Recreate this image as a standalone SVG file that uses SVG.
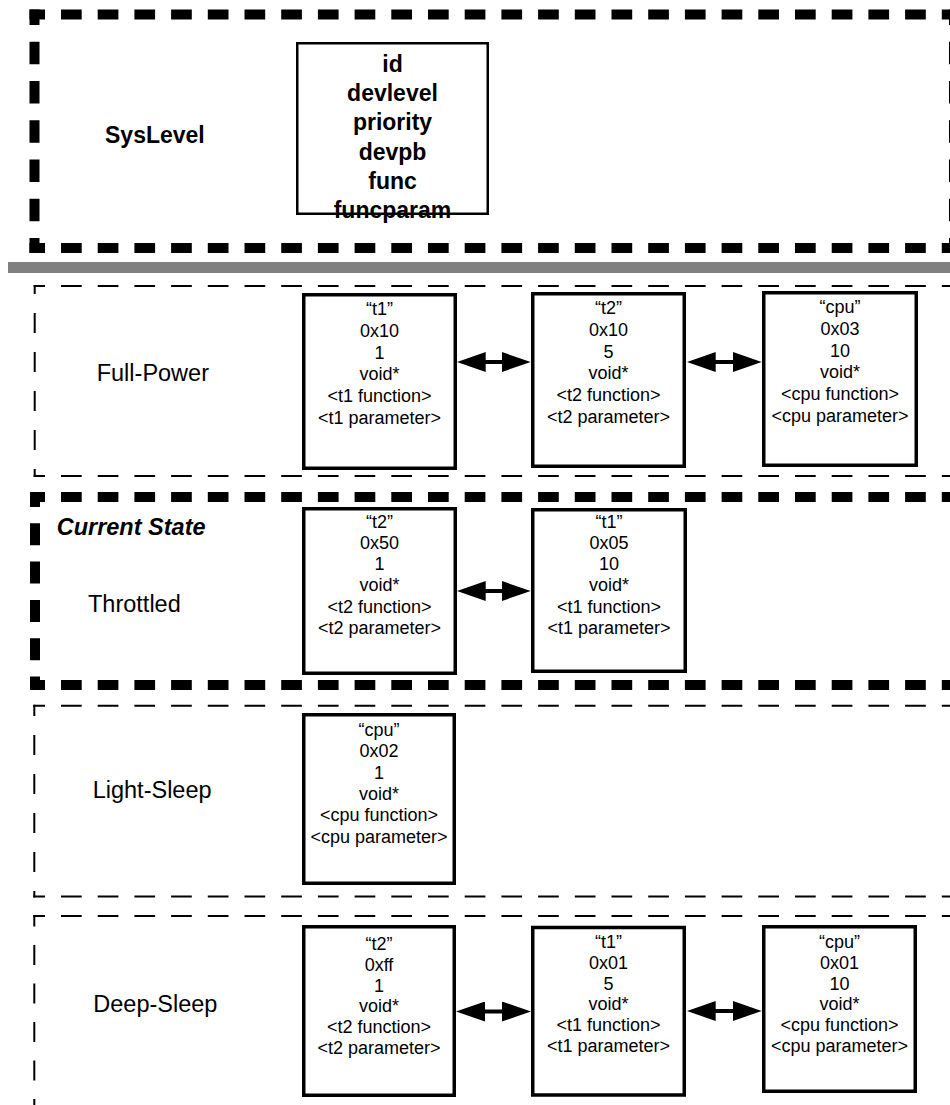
<svg xmlns="http://www.w3.org/2000/svg" width="950" height="1105" viewBox="0 0 950 1105">
<style>
.thick{stroke:#000;stroke-width:10;fill:none}
.thin{stroke:#000;stroke-width:2;fill:none}
.hd{stroke-dasharray:20.7 16}
.box{fill:#fff;stroke:#000;stroke-width:3.5}
.sbox{fill:#fff;stroke:#000;stroke-width:2.5}
.nt{font-family:"Liberation Sans",Arial,Helvetica,sans-serif;font-size:18px;text-anchor:middle;fill:#000}
.st{font-family:"Liberation Sans",Arial,Helvetica,sans-serif;font-size:23px;font-weight:bold;text-anchor:middle;fill:#000}
.lbl{font-family:"Liberation Sans",Arial,Helvetica,sans-serif;font-size:23.5px;fill:#000}
.conn{stroke:#000;stroke-width:4;fill:none;marker-start:url(#ah);marker-end:url(#ah)}
</style>
<defs>
<marker id="ah" viewBox="0 0 29 20" refX="9" refY="10" markerWidth="29" markerHeight="20" markerUnits="userSpaceOnUse" orient="auto-start-reverse">
<path d="M0,0 L29,10 L0,20 Z" fill="#000"/>
</marker>
</defs>
<rect width="950" height="1105" fill="#fff"/>

<g id="frames">
<g id="frame-syslevel">
<line class="thick hd" x1="29.5" y1="14.5" x2="959" y2="14.5" stroke-dashoffset="5.2"/>
<line class="thick hd" x1="29.5" y1="248" x2="959" y2="248" stroke-dashoffset="5.2"/>
<line class="thick" x1="34.5" y1="9.5" x2="34.5" y2="253" stroke-dasharray="22.5 16.75" stroke-dashoffset="7"/>
<line class="thick" x1="954" y1="9.5" x2="954" y2="253" stroke-dasharray="22.5 16.75" stroke-dashoffset="7"/>
</g>
<rect id="separator" x="8" y="262" width="942" height="11" fill="#808080"/>
<g id="frame-fullpower">
<line class="thin hd" x1="33.7" y1="286" x2="960" y2="286" stroke-dashoffset="9.4"/>
<line class="thin hd" x1="33.7" y1="476" x2="960" y2="476" stroke-dashoffset="9.4"/>
<line class="thin" x1="34.7" y1="285" x2="34.7" y2="477" stroke-dasharray="20 19" stroke-dashoffset="11"/>
</g>
<g id="frame-throttled">
<line class="thick hd" x1="30" y1="497" x2="965" y2="497" stroke-dashoffset="5.7"/>
<line class="thick hd" x1="30" y1="685" x2="965" y2="685" stroke-dashoffset="5.7"/>
<line class="thick" x1="35" y1="492" x2="35" y2="690" stroke-dasharray="22 16.3" stroke-dashoffset="7"/>
</g>
<g id="frame-lightsleep">
<line class="thin hd" x1="33.3" y1="705.8" x2="960" y2="705.8" stroke-dashoffset="9"/>
<line class="thin hd" x1="33.3" y1="896.5" x2="960" y2="896.5" stroke-dashoffset="9"/>
<line class="thin" x1="34.3" y1="704.8" x2="34.3" y2="897.5" stroke-dasharray="20 19" stroke-dashoffset="8.8"/>
</g>
<g id="frame-deepsleep">
<line class="thin hd" x1="33.3" y1="916" x2="960" y2="916" stroke-dashoffset="9"/>
<line class="thin" x1="34.3" y1="915" x2="34.3" y2="1110" stroke-dasharray="20 18.5" stroke-dashoffset="8.5"/>
</g>
</g>

<g id="labels">
<text class="lbl" x="105" y="143" style="font-weight:bold;font-size:23px">SysLevel</text>
<text class="lbl" x="96.7" y="381">Full-Power</text>
<text class="lbl" x="56.7" y="535" style="font-weight:bold;font-style:italic">Current State</text>
<text class="lbl" x="88" y="611.7">Throttled</text>
<text class="lbl" x="92.7" y="798.3">Light-Sleep</text>
<text class="lbl" x="93.3" y="1011.7">Deep-Sleep</text>
</g>

<g id="node-syslevel">
<rect class="sbox" x="297.25" y="43.25" width="190.5" height="170.5"/>
<text class="st"><tspan x="392.5" y="72">id</tspan><tspan x="392.5" y="101.2">devlevel</tspan><tspan x="392.5" y="130.4">priority</tspan><tspan x="392.5" y="159.6">devpb</tspan><tspan x="392.5" y="188.8">func</tspan><tspan x="392.5" y="218">funcparam</tspan></text>
</g>

<g id="node-fp-t1">
<rect class="box" x="303.75" y="294.75" width="151.5" height="173.5"/>
<text class="nt"><tspan x="379.5" y="315">“t1”</tspan><tspan x="379.5" y="336.8">0x10</tspan><tspan x="379.5" y="358.6">1</tspan><tspan x="379.5" y="380.4">void*</tspan><tspan x="379.5" y="402.2">&lt;t1 function&gt;</tspan><tspan x="379.5" y="424">&lt;t1 parameter&gt;</tspan></text>
</g>
<g id="node-fp-t2">
<rect class="box" x="532.75" y="293.75" width="151.5" height="172.5"/>
<text class="nt"><tspan x="608.5" y="314">“t2”</tspan><tspan x="608.5" y="335.8">0x10</tspan><tspan x="608.5" y="357.6">5</tspan><tspan x="608.5" y="379.4">void*</tspan><tspan x="608.5" y="401.2">&lt;t2 function&gt;</tspan><tspan x="608.5" y="423">&lt;t2 parameter&gt;</tspan></text>
</g>
<g id="node-fp-cpu">
<rect class="box" x="763.75" y="292.75" width="152.5" height="172.5"/>
<text class="nt"><tspan x="840" y="313">“cpu”</tspan><tspan x="840" y="334.8">0x03</tspan><tspan x="840" y="356.6">10</tspan><tspan x="840" y="378.4">void*</tspan><tspan x="840" y="400.2">&lt;cpu function&gt;</tspan><tspan x="840" y="422">&lt;cpu parameter&gt;</tspan></text>
</g>

<g id="node-th-t2">
<rect class="box" x="303.75" y="508.75" width="151.5" height="164.5"/>
<text class="nt"><tspan x="379.5" y="527.5">“t2”</tspan><tspan x="379.5" y="548.8">0x50</tspan><tspan x="379.5" y="570.1">1</tspan><tspan x="379.5" y="591.4">void*</tspan><tspan x="379.5" y="612.7">&lt;t2 function&gt;</tspan><tspan x="379.5" y="634">&lt;t2 parameter&gt;</tspan></text>
</g>
<g id="node-th-t1">
<rect class="box" x="532.75" y="509.75" width="152.5" height="161.5"/>
<text class="nt"><tspan x="609" y="527.5">“t1”</tspan><tspan x="609" y="548.8">0x05</tspan><tspan x="609" y="570.1">10</tspan><tspan x="609" y="591.4">void*</tspan><tspan x="609" y="612.7">&lt;t1 function&gt;</tspan><tspan x="609" y="634">&lt;t1 parameter&gt;</tspan></text>
</g>

<g id="node-ls-cpu">
<rect class="box" x="303.75" y="714.75" width="150.5" height="168.5"/>
<text class="nt"><tspan x="379" y="736">“cpu”</tspan><tspan x="379" y="757.3">0x02</tspan><tspan x="379" y="778.6">1</tspan><tspan x="379" y="799.9">void*</tspan><tspan x="379" y="821.2">&lt;cpu function&gt;</tspan><tspan x="379" y="842.5">&lt;cpu parameter&gt;</tspan></text>
</g>

<g id="node-ds-t2">
<rect class="box" x="303.75" y="926.75" width="150.5" height="168.5"/>
<text class="nt"><tspan x="379" y="950">“t2”</tspan><tspan x="379" y="970.8">0xff</tspan><tspan x="379" y="991.6">1</tspan><tspan x="379" y="1012.4">void*</tspan><tspan x="379" y="1033.2">&lt;t2 function&gt;</tspan><tspan x="379" y="1054">&lt;t2 parameter&gt;</tspan></text>
</g>
<g id="node-ds-t1">
<rect class="box" x="532.75" y="927.5" width="151.5" height="167.5"/>
<text class="nt"><tspan x="608.5" y="948">“t1”</tspan><tspan x="608.5" y="968.8">0x01</tspan><tspan x="608.5" y="989.6">5</tspan><tspan x="608.5" y="1010.4">void*</tspan><tspan x="608.5" y="1031.2">&lt;t1 function&gt;</tspan><tspan x="608.5" y="1052">&lt;t1 parameter&gt;</tspan></text>
</g>
<g id="node-ds-cpu">
<rect class="box" x="763.75" y="926.75" width="151.5" height="164.5"/>
<text class="nt"><tspan x="839.5" y="948">“cpu”</tspan><tspan x="839.5" y="968.8">0x01</tspan><tspan x="839.5" y="989.6">10</tspan><tspan x="839.5" y="1010.4">void*</tspan><tspan x="839.5" y="1031.2">&lt;cpu function&gt;</tspan><tspan x="839.5" y="1052">&lt;cpu parameter&gt;</tspan></text>
</g>

<g id="connectors">
<line class="conn" x1="476.7" y1="362" x2="510.7" y2="362"/>
<line class="conn" x1="706.7" y1="362" x2="741.7" y2="362"/>
<line class="conn" x1="476.7" y1="591" x2="510.7" y2="591"/>
<line class="conn" x1="476" y1="1011.5" x2="511" y2="1011.5"/>
<line class="conn" x1="706.7" y1="1011" x2="741.7" y2="1011"/>
</g>
</svg>
